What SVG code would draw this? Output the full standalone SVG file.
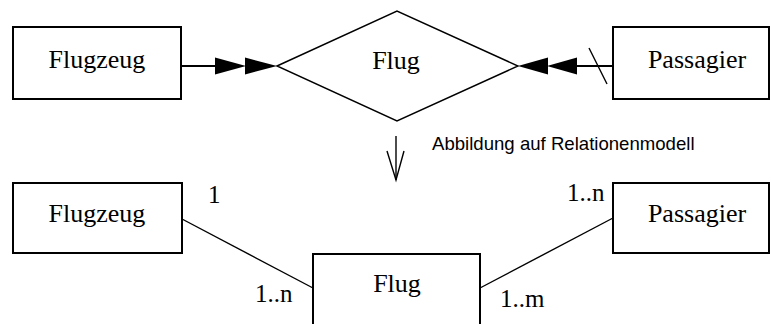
<svg xmlns="http://www.w3.org/2000/svg" width="771" height="324" viewBox="0 0 771 324">
  <style>
    .box { fill: #fff; stroke: #000; stroke-width: 2; }
    .shape { fill: #fff; stroke: #000; stroke-width: 1.4; }
    .lbl { font-family: "Liberation Serif", "Times New Roman", serif; font-size: 26px; fill: #000; text-anchor: middle; }
    .card { font-family: "Liberation Serif", "Times New Roman", serif; font-size: 25px; fill: #000; }
    .note { font-family: "Liberation Sans", Arial, sans-serif; font-size: 18.6px; fill: #000; }
    .thick { stroke: #000; stroke-width: 2; fill: none; }
    .thin { stroke: #000; stroke-width: 1.4; fill: none; }
    .head { fill: #000; stroke: none; }
  </style>
  <rect width="771" height="324" fill="#fff"/>

  <!-- connectors -->
  <g id="connectors">
    <!-- ER: Flugzeug -> Flug, double filled arrowhead -->
    <line class="thick" x1="181" y1="66" x2="216" y2="66"/>
    <polygon class="head" points="215,57.5 246,66 215,74.5"/>
    <polygon class="head" points="245,57.5 277,66 245,74.5"/>
    <!-- ER: Passagier -> Flug, double filled arrowhead with slash -->
    <line class="thick" x1="613" y1="66" x2="576" y2="66"/>
    <polygon class="head" points="577,57.5 547,66 577,74.5"/>
    <polygon class="head" points="548,57.5 518,66 548,74.5"/>
    <line class="thin" x1="589" y1="48" x2="607" y2="84"/>
    <!-- mapping arrow -->
    <line class="thin" x1="396" y1="136" x2="396" y2="180"/>
    <polyline class="thin" points="387,151 396,180 404,151"/>
    <!-- relational model links -->
    <line class="thin" x1="182" y1="219" x2="313" y2="288"/>
    <line class="thin" x1="480" y1="288" x2="613" y2="218"/>
  </g>

  <!-- ER model -->
  <g id="er-flugzeug">
    <rect class="box" x="13" y="27" width="168" height="72"/>
    <text class="lbl" x="97" y="68">Flugzeug</text>
  </g>
  <g id="er-flug">
    <polygon class="shape" points="277,66 397,11 518,66 397,121"/>
    <text class="lbl" x="396" y="69">Flug</text>
  </g>
  <g id="er-passagier">
    <rect class="box" x="613" y="27" width="156" height="72"/>
    <text class="lbl" x="697" y="68">Passagier</text>
  </g>

  <text class="note" x="432" y="150">Abbildung auf Relationenmodell</text>

  <!-- relational model -->
  <g id="rel-flugzeug">
    <rect class="box" x="13" y="183" width="169" height="70"/>
    <text class="lbl" x="97" y="222">Flugzeug</text>
    <text class="card" x="208" y="203">1</text>
  </g>
  <g id="rel-flug">
    <rect class="box" x="313" y="254" width="167" height="80"/>
    <text class="lbl" x="397" y="292">Flug</text>
    <text class="card" x="255" y="302">1..n</text>
    <text class="card" x="500" y="307">1..m</text>
  </g>
  <g id="rel-passagier">
    <rect class="box" x="613" y="183" width="156" height="70"/>
    <text class="lbl" x="697" y="222">Passagier</text>
    <text class="card" x="567" y="201">1..n</text>
  </g>
</svg>
